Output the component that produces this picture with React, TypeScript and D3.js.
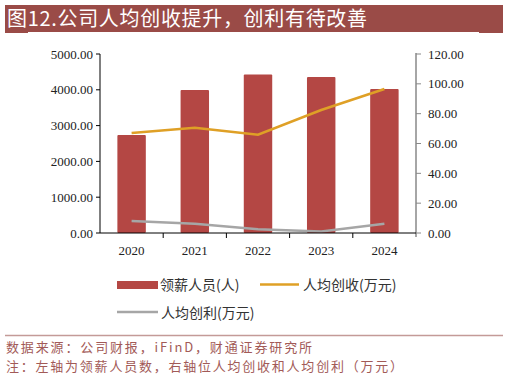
import React from "react";
import * as d3 from "d3";

const years = ["2020", "2021", "2022", "2023", "2024"];
// 领薪人员(人), left axis
const staff = [2737, 3995, 4430, 4355, 4020];
// 人均创收(万元), right axis
const revenuePerHead = [67.0, 70.6, 65.9, 82.5, 96.5];
// 人均创利(万元), right axis
const profitPerHead = [8.0, 6.2, 2.5, 1.0, 6.2];

const leftTicks = [0, 1000, 2000, 3000, 4000, 5000];
const rightTicks = [0, 20, 40, 60, 80, 100, 120];

const W = 509;
const H = 389;
const margin = { left: 100, right: 416, top: 54, bottom: 233 };

const RED = "#B44744";
const ORANGE = "#DFA026";
const GRAY = "#A6A6A6";
const BRAND = "#9A4B47";
const serif = "'Liberation Serif', 'Times New Roman', serif";
const cjk = "'Noto Sans CJK SC', sans-serif";

export default function App() {
  const x = d3
    .scaleBand<string>()
    .domain(years)
    .range([margin.left, margin.right])
    .paddingInner(0.55)
    .paddingOuter(0.275);
  const xBand = d3.scaleBand<string>().domain(years).range([margin.left, margin.right]);
  const yL = d3.scaleLinear().domain([0, 5000]).range([margin.bottom, margin.top]);
  const yR = d3.scaleLinear().domain([0, 120]).range([margin.bottom, margin.top]);

  const cx = (d: string) => (xBand(d) ?? 0) + xBand.bandwidth() / 2;
  const line = d3
    .line<number>()
    .x((_, i) => cx(years[i]))
    .y((v) => yR(v));

  return (
    <svg
      width={W}
      height={H}
      style={{ position: "absolute", left: 0, top: 0, background: "#fff" }}
    >
      {/* header bar */}
      <rect x={5} y={5} width={498} height={27} fill={BRAND} />
      <line x1={5} x2={28} y1={32.5} y2={32.5} stroke={BRAND} strokeWidth={1} />
      <line x1={479} x2={503} y1={32.5} y2={32.5} stroke={BRAND} strokeWidth={1} />
      <text
        x={7}
        y={26}
        fill="#fff"
        fontSize={20}
        fontFamily={cjk}
        textLength={360}
        lengthAdjust="spacing"
      >
        图12.公司人均创收提升，创利有待改善
      </text>

      {/* bars */}
      {years.map((yr, i) => (
        <rect
          key={yr}
          x={x(yr)}
          y={yL(staff[i])}
          width={x.bandwidth()}
          height={margin.bottom - yL(staff[i])}
          fill={RED}
          rx={1}
        />
      ))}

      {/* lines */}
      <path d={line(revenuePerHead) ?? ""} fill="none" stroke={ORANGE} strokeWidth={2.6} />
      <path d={line(profitPerHead) ?? ""} fill="none" stroke={GRAY} strokeWidth={2.6} />

      {/* left axis */}
      <line x1={margin.left} x2={margin.left} y1={margin.top} y2={margin.bottom} stroke="#000" />
      {leftTicks.map((t) => (
        <g key={t}>
          <line x1={margin.left - 4} x2={margin.left} y1={yL(t)} y2={yL(t)} stroke="#000" />
          <text
            x={margin.left - 7}
            y={yL(t) + 4.5}
            textAnchor="end"
            fontSize={13}
            fontFamily={serif}
            fill="#222"
          >
            {t.toFixed(2)}
          </text>
        </g>
      ))}

      {/* right axis */}
      <line x1={margin.right} x2={margin.right} y1={margin.top - 1} y2={margin.bottom + 4} stroke="#888" strokeWidth={1.5} />
      {rightTicks.map((t) => (
        <g key={t}>
          <line x1={margin.right} x2={margin.right + 5} y1={yR(t)} y2={yR(t)} stroke="#888" />
          <text x={margin.right + 12} y={yR(t) + 4.5} fontSize={13} fontFamily={serif} fill="#222">
            {t.toFixed(2)}
          </text>
        </g>
      ))}

      {/* x axis */}
      <line x1={margin.left} x2={margin.right} y1={margin.bottom} y2={margin.bottom} stroke="#000" />
      {years.slice(1).map((yr) => (
        <line
          key={yr}
          x1={xBand(yr)}
          x2={xBand(yr)}
          y1={margin.bottom}
          y2={margin.bottom + 5}
          stroke="#000"
        />
      ))}
      {years.map((yr) => (
        <text
          key={yr}
          x={cx(yr)}
          y={margin.bottom + 22}
          textAnchor="middle"
          fontSize={13}
          fontFamily={serif}
          fill="#222"
        >
          {yr}
        </text>
      ))}

      {/* legend */}
      <rect x={117} y={281} width={41} height={8} fill={RED} />
      <text x={160} y={290} fontSize={14} fontFamily={cjk} fill="#333">
        领薪人员(人)
      </text>
      <line x1={260} x2={299} y1={284.5} y2={284.5} stroke={ORANGE} strokeWidth={2.6} />
      <text x={303} y={290} fontSize={14} fontFamily={cjk} fill="#333">
        人均创收(万元)
      </text>
      <line x1={117} x2={158} y1={312} y2={312} stroke={GRAY} strokeWidth={2.6} />
      <text x={161} y={318} fontSize={14} fontFamily={cjk} fill="#333">
        人均创利(万元)
      </text>

      {/* footer */}
      <line x1={5} x2={503} y1={335.5} y2={335.5} stroke="#C49A98" strokeWidth={1.5} />
      <text
        x={6}
        y={352}
        fontSize={13}
        fontFamily={cjk}
        fill="#A25A57"
        textLength={306}
        lengthAdjust="spacing"
      >
        数据来源：公司财报，iFinD，财通证券研究所
      </text>
      <text
        x={6}
        y={371}
        fontSize={13}
        fontFamily={cjk}
        fill="#A25A57"
        textLength={397}
        lengthAdjust="spacing"
      >
        注：左轴为领薪人员数，右轴位人均创收和人均创利（万元）
      </text>
    </svg>
  );
}
